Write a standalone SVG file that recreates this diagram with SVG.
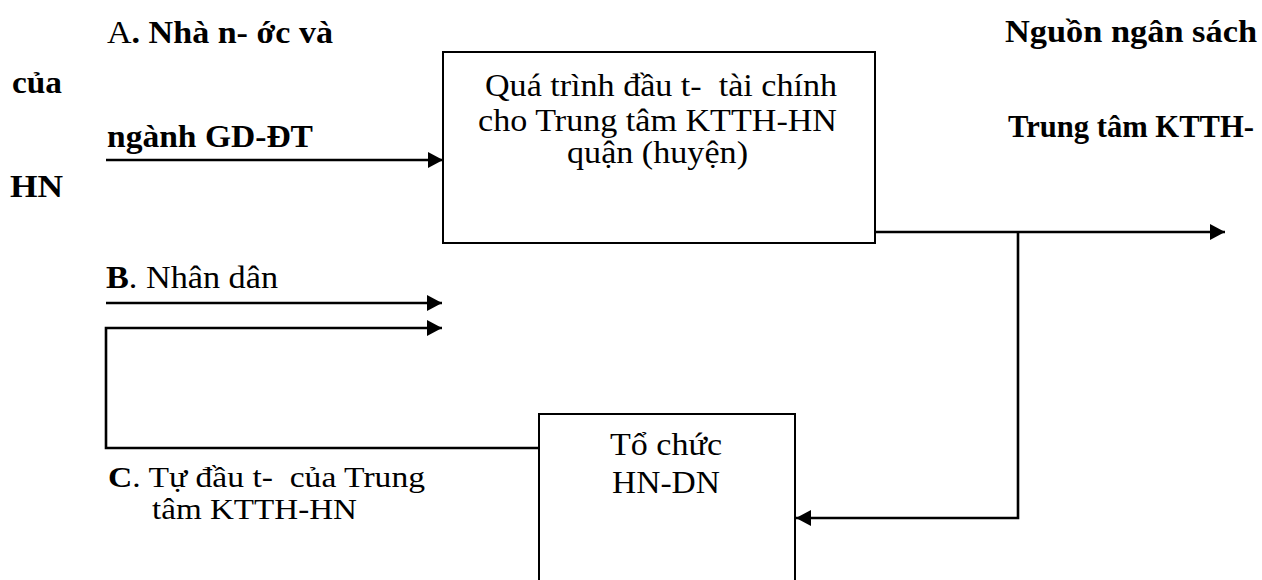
<svg xmlns="http://www.w3.org/2000/svg" width="1262" height="580" viewBox="0 0 1262 580">
  <style>
    text { font-family: "Liberation Serif", "Times New Roman", serif; font-size: 31px; fill: #000; white-space: pre; }
    .b { font-weight: bold; }
    .sm { font-size: 29px; }
    .box { fill: none; stroke: #000; stroke-width: 2; }
    .wire { fill: none; stroke: #000; stroke-width: 2.6; }
  </style>
  <defs>
    <marker id="arrow" markerUnits="userSpaceOnUse" markerWidth="16" markerHeight="16" refX="15" refY="8" orient="auto">
      <path d="M0,0 L15,8 L0,16 Z" fill="#000"/>
    </marker>
  </defs>

  <rect width="1262" height="580" fill="#fff"/>

  <!-- Source labels -->
  <g id="label-a">
    <text x="107" y="43" textLength="226" lengthAdjust="spacingAndGlyphs">A<tspan class="b">. Nhà n- ớc và</tspan></text>
    <text class="b" x="12" y="93" textLength="50" lengthAdjust="spacingAndGlyphs">của</text>
    <text class="b" x="107" y="147" textLength="206" lengthAdjust="spacingAndGlyphs">ngành GD-ĐT</text>
    <text class="b" x="10" y="197" textLength="53" lengthAdjust="spacingAndGlyphs">HN</text>
  </g>
  <g id="label-budget">
    <text class="b" x="1005" y="42" textLength="252" lengthAdjust="spacingAndGlyphs">Nguồn ngân sách</text>
    <text class="b" x="1008" y="137" textLength="246" lengthAdjust="spacingAndGlyphs">Trung tâm KTTH-</text>
  </g>
  <g id="label-b">
    <text x="106" y="288" textLength="172" lengthAdjust="spacingAndGlyphs"><tspan class="b">B</tspan>. Nhân dân</text>
  </g>
  <g id="label-c">
    <text class="sm" x="108" y="487" textLength="317" lengthAdjust="spacingAndGlyphs"><tspan class="b">C</tspan>. Tự đầu t-  của Trung</text>
    <text class="sm" x="152" y="519" textLength="205" lengthAdjust="spacingAndGlyphs">tâm KTTH-HN</text>
  </g>

  <!-- Process box -->
  <g id="node-process">
    <rect class="box" x="443" y="52" width="432" height="191"/>
    <text x="485" y="96" textLength="352" lengthAdjust="spacingAndGlyphs">Quá trình đầu t-  tài chính</text>
    <text x="478" y="131" textLength="359" lengthAdjust="spacingAndGlyphs">cho Trung tâm KTTH-HN</text>
    <text x="567" y="163" textLength="181" lengthAdjust="spacingAndGlyphs">quận (huyện)</text>
  </g>

  <!-- Organisation box (runs past the bottom edge) -->
  <g id="node-org">
    <rect class="box" x="539" y="414" width="256" height="200"/>
    <text x="610" y="455" textLength="112" lengthAdjust="spacingAndGlyphs">Tổ chức</text>
    <text x="612" y="493" textLength="108" lengthAdjust="spacingAndGlyphs">HN-DN</text>
  </g>

  <!-- Connectors -->
  <g id="connectors">
    <path class="wire" d="M106,160 H443" marker-end="url(#arrow)"/>
    <path class="wire" d="M875,232 H1225" marker-end="url(#arrow)"/>
    <path class="wire" d="M1018,232 V518 H796" marker-end="url(#arrow)"/>
    <path class="wire" d="M106,303 H442" marker-end="url(#arrow)"/>
    <path class="wire" d="M539,448 H106 V328 H442" marker-end="url(#arrow)"/>
  </g>
</svg>
